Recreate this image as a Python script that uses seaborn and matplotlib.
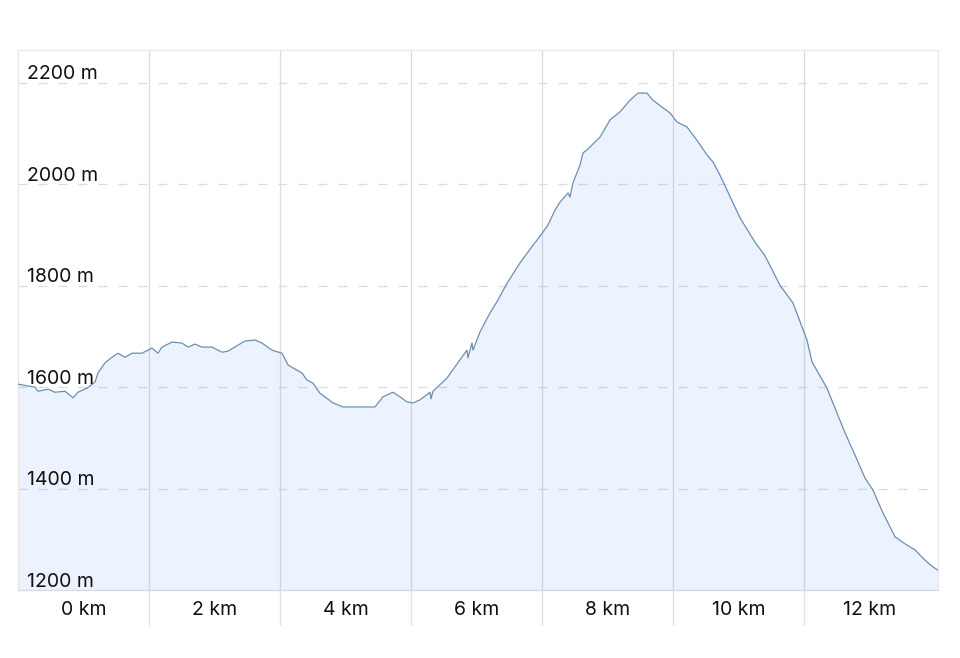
import matplotlib
matplotlib.use("Agg")
import matplotlib.pyplot as plt
import seaborn as sns
import pandas as pd

# Elevation profile (distance in km, elevation in m)
distance_km = [
    0.000, 0.260, 0.305, 0.458, 0.565, 0.718, 0.840, 0.916, 1.053, 1.176,
    1.221, 1.328, 1.435, 1.527, 1.634, 1.740, 1.893, 2.046, 2.137, 2.198,
    2.351, 2.504, 2.595, 2.702, 2.809, 2.962, 3.115, 3.206, 3.359, 3.466,
    3.618, 3.725, 3.878, 4.031, 4.122, 4.198, 4.336, 4.412, 4.504, 4.611,
    4.809, 4.962, 5.115, 5.450, 5.573, 5.725, 5.832, 5.939, 6.031, 6.137,
    6.290, 6.305, 6.336, 6.550, 6.748, 6.855, 6.870, 6.931, 6.947, 7.053,
    7.206, 7.328, 7.466, 7.664, 7.863, 7.924, 8.015, 8.092, 8.198, 8.275,
    8.397, 8.427, 8.473, 8.580, 8.626, 8.687, 8.885, 9.038, 9.191, 9.344,
    9.466, 9.603, 9.695, 9.847, 9.954, 10.061, 10.214, 10.366, 10.519, 10.611,
    10.718, 10.824, 11.023, 11.252, 11.405, 11.634, 11.832, 12.046, 12.122, 12.351,
    12.504, 12.626, 12.779, 12.931, 13.053, 13.206, 13.389, 13.542, 13.695, 13.847,
    13.954, 14.046,
]
elevation_m = [
    1606, 1600, 1592, 1596, 1590, 1592, 1579, 1590, 1598, 1610,
    1628, 1648, 1659, 1667, 1659, 1667, 1667, 1677, 1667, 1679,
    1689, 1687, 1679, 1685, 1679, 1679, 1669, 1671, 1683, 1691,
    1693, 1687, 1673, 1667, 1644, 1638, 1628, 1614, 1608, 1588,
    1569, 1561, 1561, 1561, 1581, 1590, 1581, 1571, 1569, 1575,
    1590, 1577, 1592, 1618, 1654, 1673, 1658, 1687, 1673, 1709,
    1746, 1772, 1805, 1845, 1880, 1890, 1906, 1920, 1949, 1965,
    1983, 1975, 2003, 2038, 2062, 2068, 2093, 2127, 2143, 2166,
    2180, 2180, 2166, 2151, 2141, 2123, 2113, 2087, 2058, 2044,
    2018, 1989, 1934, 1886, 1859, 1801, 1766, 1693, 1650, 1598,
    1549, 1510, 1466, 1421, 1397, 1352, 1305, 1291, 1279, 1259,
    1247, 1239,
]

y_ticks = [1200, 1400, 1600, 1800, 2000, 2200]
y_labels = ["1200 m", "1400 m", "1600 m", "1800 m", "2000 m", "2200 m"]
x_grid = [2, 4, 6, 8, 10, 12]
x_label_pos = [1, 3, 5, 7, 9, 11, 13]
x_labels = ["0 km", "2 km", "4 km", "6 km", "8 km", "10 km", "12 km"]

df = pd.DataFrame({"km": distance_km, "m": elevation_m})

sns.set_theme(style="white")
plt.rcParams["font.family"] = ["Inter", "DejaVu Sans"]

fig = plt.figure(figsize=(9.6, 6.58), dpi=100)
ax = fig.add_axes([18 / 960, 1 - 590 / 658, 920 / 960, 540 / 658])

# profile
ax.fill_between(df["km"], df["m"], 1200, color="#3478F6", alpha=0.09, lw=0, zorder=2)
sns.lineplot(data=df, x="km", y="m", ax=ax, color="#6a8fb0", lw=0.9, zorder=3)

ax.set_xlim(0, distance_km[-1])
ax.set_ylim(1200, 2265)

# horizontal dashed grid
for v in y_ticks[1:]:
    ax.axhline(v, color="#dcdcdc", lw=0.9, ls=(0, (7, 9)), zorder=1)

# vertical grid lines, running below the plot area
ax.set_xticks(x_grid)
ax.set_xticklabels([])
ax.tick_params(axis="x", which="major", direction="out", length=25.5,
               width=0.9, color="#e0e0e0", bottom=True)
for v in x_grid:
    ax.axvline(v, color="#dcdcdc", lw=0.9, zorder=1)

# labels centred in the bands
ax.set_xticks(x_label_pos, minor=True)
ax.set_xticklabels(x_labels, minor=True)
ax.tick_params(axis="x", which="minor", length=0, pad=8, labelsize=14,
               labelcolor="#111111")

ax.set_yticks([])
for v, lab in zip(y_ticks, y_labels):
    ax.annotate(lab, xy=(0, v), xycoords=("axes fraction", "data"),
                xytext=(6.5, 2.5), textcoords="offset points",
                ha="left", va="baseline", fontsize=14, color="#111111", zorder=5)

ax.set_xlabel("")
ax.set_ylabel("")
for side in ["top", "left", "right"]:
    ax.spines[side].set_color("#e8e8e8")
    ax.spines[side].set_linewidth(0.9)
ax.spines["bottom"].set_color("#d6dbe3")
ax.spines["bottom"].set_linewidth(0.9)

fig.savefig("out.png", dpi=100, facecolor="white")
